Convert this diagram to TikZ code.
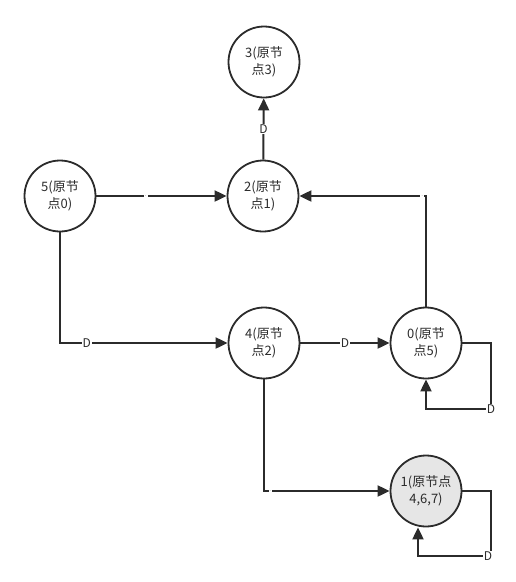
\documentclass[tikz,border=0pt]{standalone}
\usepackage{fontspec}
\newfontfamily\cjk{Noto Sans CJK SC}
\usetikzlibrary{arrows.meta}
\definecolor{ln}{HTML}{2B2B2B}
\definecolor{gfill}{HTML}{E6E6E6}
\begin{document}
\begin{tikzpicture}[x=1pt,y=-1pt,
  st/.style={circle,draw=ln,line width=1.8pt,minimum size=71pt,inner sep=0pt,align=center,
    font=\cjk\fontsize{13}{17}\selectfont,text=ln},
  ed/.style={draw=ln,line width=2pt,-{Triangle[length=12pt,width=11pt]}},
  lb/.style={fill=white,inner sep=1pt,font=\cjk\fontsize{12}{12}\selectfont,text=ln},
  dt/.style={fill=white,inner sep=0.6pt,font=\fontsize{7}{7}\selectfont,text=gray}]
\useasboundingbox (0,0) rectangle (516,582);
\node[st] (n3) at (264,62) {3(原节\\点3)};
\node[st] (n2) at (263,196) {2(原节\\点1)};
\node[st] (n5) at (60,196) {5(原节\\点0)};
\node[st] (n4) at (264,343) {4(原节\\点2)};
\node[st] (n0) at (426,343) {0(原节\\点5)};
\node[st,fill=gfill] (n1) at (426,491) {1(原节点\\4,6,7)};
\coordinate (c02) at (426,196);
\coordinate (c54) at (60,343);
\coordinate (c41) at (264,491);
\coordinate (l0a) at (491,343);
\coordinate (l0b) at (491,409);
\coordinate (l0c) at (426,409);
\coordinate (l1a) at (491,491);
\coordinate (l1b) at (491,556);
\coordinate (l1c) at (418,556);
\path[ed] (n2) -- node[lb] {D} (n3);
\path[ed] (n5) -- node[dt,pos=0.38] {.} (n2);
\path[ed] (n0.north) -- (c02) -- node[dt,pos=0.03] {.} (n2.east);
\path[ed] (n5.south) -- (c54) -- node[lb,pos=0.16] {D} (n4.west);
\path[ed] (n4) -- node[lb,pos=0.5] {D} (n0);
\path[ed] (n0.east) -- (l0a) -- (l0b) -- (l0c) -- (n0.south);
\node[lb] (d0) at (l0b) {D};
\path[ed] (n4.south) -- (c41) -- node[dt,pos=0.05] {.} (n1.west);
\path[ed] (n1.east) -- (l1a) -- (l1b) -- (l1c) -- (n1.south -| l1c);
\node[lb] (d1) at (488,556) {D};
\end{tikzpicture}
\end{document}
